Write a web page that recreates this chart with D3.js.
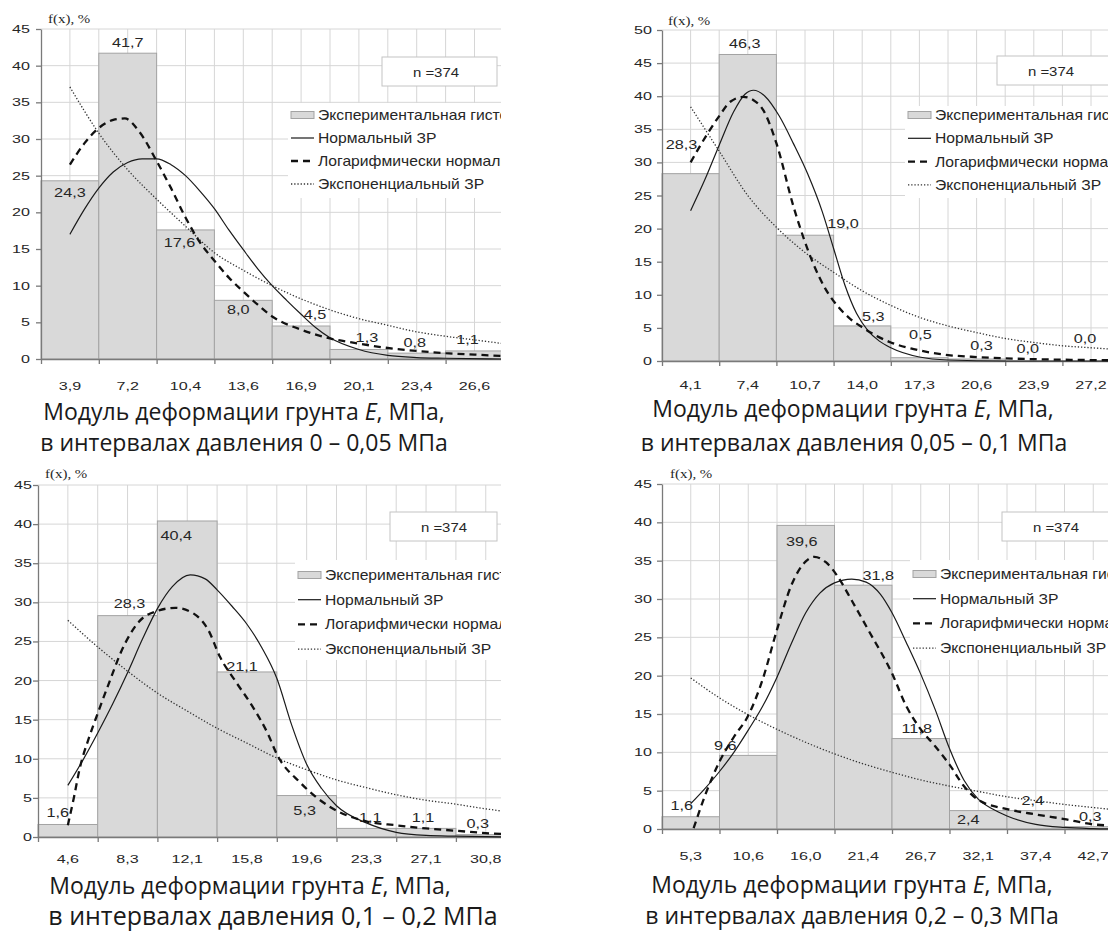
<!DOCTYPE html>
<html>
<head>
<meta charset="utf-8">
<script src="https://cdn.jsdelivr.net/npm/d3@7"></script>
<style>
  body { margin: 0; background: #fff; }
  svg text { font-family: "Liberation Sans", Arial, sans-serif; }
</style>
</head>
<body>
<div id="vis"></div>
<script>
// == DATA ==
const legendNames = ["Экспериментальная гистограмма", "Нормальный ЗР", "Логарифмически нормальный ЗР", "Экспоненциальный ЗР"];
const sampleSize = "n =374";
const axisTitle = ["Модуль деформации грунта ", "E", ", МПа,"];
const pressure = ["0 – 0,05", "0,05 – 0,1", "0,1 – 0,2", "0,2 – 0,3"];

// panel 1: 0 - 0.05 MPa
const ticks1 = ["3,9", "7,2", "10,4", "13,6", "16,9", "20,1", "23,4", "26,6"];
const hist1 = [24.3, 41.7, 17.6, 8.0, 4.5, 1.3, 0.8, 1.1];
const normal1 = [[0.5,17.0],[0.75,20.4],[1.0,23.3],[1.25,25.5],[1.5,26.8],[1.75,27.3],[2.0,27.3],[2.25,26.5],[2.5,25.0],[2.75,22.9],[3.0,20.5],[3.25,17.6],[3.5,14.9],[3.75,12.3],[4.0,10.0],[4.25,8.0],[4.5,6.1],[4.75,4.3],[5.0,2.9],[5.5,1.3],[6.0,0.5],[6.5,0.2],[7.0,0.1],[8.0,0.0]];
const lognorm1 = [[0.5,26.5],[0.75,29.4],[1.0,31.5],[1.25,32.6],[1.45,32.8],[1.7,31.0],[2.0,27.0],[2.25,23.3],[2.5,19.3],[2.75,15.9],[3.0,13.4],[3.25,11.1],[3.5,9.2],[3.75,7.4],[4.0,5.8],[4.5,4.0],[5.0,2.8],[5.5,2.1],[6.0,1.5],[6.5,1.1],[7.0,0.8],[7.5,0.6],[8.0,0.4]];
const expo1 = [[0.5,37.1],[1.0,30.8],[1.5,25.8],[2.0,21.8],[2.5,18.1],[3.0,14.5],[3.5,12.1],[4.0,10.0],[4.5,8.2],[5.0,6.7],[5.5,5.5],[6.0,4.6],[6.5,3.7],[7.0,3.1],[7.5,2.6],[8.0,2.1]];

// panel 2: 0.05 - 0.1 MPa
const ticks2 = ["4,1", "7,4", "10,7", "14,0", "17,3", "20,6", "23,9", "27,2"];
const hist2 = [28.3, 46.3, 19.0, 5.3, 0.5, 0.3, 0.0, 0.0];
const normal2 = [[0.5,22.7],[0.75,27.4],[1.0,32.6],[1.25,37.6],[1.45,40.3],[1.6,40.9],[1.8,40.0],[2.05,37.0],[2.3,32.8],[2.55,28.2],[2.8,22.6],[3.0,17.0],[3.2,11.4],[3.4,7.2],[3.6,4.6],[3.8,3.0],[4.0,2.0],[4.5,0.6],[5.0,0.15],[6.0,0.0],[8.0,0.0]];
const lognorm2 = [[0.5,30.0],[0.8,34.4],[1.0,37.0],[1.2,39.2],[1.42,39.9],[1.6,39.4],[1.77,37.9],[2.0,32.9],[2.3,23.3],[2.64,14.8],[2.85,11.0],[3.1,8.0],[3.3,6.3],[3.5,5.1],[3.75,3.8],[4.0,2.8],[4.4,1.8],[5.0,0.9],[5.5,0.6],[6.0,0.4],[7.0,0.2],[8.0,0.1]];
const expo2 = [[0.5,38.4],[1.0,31.7],[1.5,25.0],[2.0,20.2],[2.5,16.4],[3.0,13.4],[3.5,10.6],[4.0,8.4],[4.5,6.6],[5.0,5.3],[5.5,4.3],[6.0,3.4],[6.5,2.8],[7.0,2.3],[7.5,2.0],[8.0,1.7]];

// panel 3: 0.1 - 0.2 MPa
const ticks3 = ["4,6", "8,3", "12,1", "15,8", "19,6", "23,3", "27,1", "30,8"];
const hist3 = [1.6, 28.3, 40.4, 21.1, 5.3, 1.1, 1.1, 0.3];
const normal3 = [[0.5,6.6],[0.75,9.8],[1.0,13.3],[1.25,17.0],[1.5,21.0],[1.75,25.3],[2.0,29.2],[2.25,32.0],[2.55,33.5],[2.8,33.0],[3.0,31.6],[3.25,29.5],[3.5,27.2],[3.75,24.2],[4.0,20.3],[4.25,14.3],[4.5,9.3],[4.75,6.2],[5.0,4.0],[5.5,1.8],[6.0,0.6],[6.5,0.2],[7.0,0.1],[8.0,0.0]];
const lognorm3 = [[0.5,1.5],[0.6,5.0],[0.7,8.8],[0.85,12.6],[1.0,15.8],[1.2,19.9],[1.4,23.8],[1.7,27.6],[2.0,28.9],[2.3,29.3],[2.6,28.6],[2.85,26.5],[3.05,23.0],[3.3,20.0],[3.6,16.6],[3.85,13.2],[4.0,10.6],[4.4,6.9],[4.9,3.8],[5.5,2.0],[6.0,1.5],[6.5,1.1],[7.0,0.8],[7.5,0.5],[8.0,0.3]];
const expo3 = [[0.5,27.7],[1.0,24.3],[1.5,21.2],[2.0,18.4],[2.5,16.1],[3.0,13.9],[3.5,12.0],[4.0,10.1],[4.5,8.6],[5.0,7.3],[5.5,6.3],[6.0,5.4],[6.5,4.7],[7.0,4.2],[7.5,3.6],[8.0,3.1]];

// panel 4: 0.2 - 0.3 MPa
const ticks4 = ["5,3", "10,6", "16,0", "21,4", "26,7", "32,1", "37,4", "42,7"];
const hist4 = [1.6, 9.6, 39.6, 31.8, 11.8, 2.4, 2.4, 0.3];
const normal4 = [[0.5,3.3],[0.75,5.3],[1.0,7.5],[1.25,10.0],[1.5,12.9],[1.75,16.0],[2.0,19.8],[2.25,24.2],[2.5,28.2],[2.75,30.8],[3.0,32.1],[3.3,32.6],[3.55,32.2],[3.8,30.6],[4.0,28.2],[4.25,24.3],[4.5,20.2],[4.75,15.6],[5.0,10.5],[5.25,6.4],[5.5,3.9],[5.75,2.6],[6.0,1.7],[6.5,0.6],[7.0,0.2],[7.5,0.05],[8.0,0.0]];
const lognorm4 = [[0.55,0.1],[0.75,4.4],[1.0,8.8],[1.25,12.0],[1.5,14.8],[1.75,19.5],[2.0,26.0],[2.25,31.8],[2.5,34.9],[2.65,35.5],[2.85,34.8],[3.05,33.0],[3.3,29.8],[3.6,25.8],[4.0,20.3],[4.25,16.0],[4.5,13.0],[4.75,10.8],[5.0,8.4],[5.25,5.6],[5.5,3.8],[6.0,2.6],[6.5,1.9],[7.0,1.3],[7.5,0.6],[8.0,0.4]];
const expo4 = [[0.5,19.7],[1.0,17.1],[1.5,14.9],[2.0,13.0],[2.5,11.3],[3.0,9.8],[3.5,8.5],[4.0,7.4],[4.5,6.4],[5.0,5.6],[5.5,4.9],[6.0,4.2],[6.5,3.7],[7.0,3.2],[7.5,2.8],[8.0,2.4]];

// where each bar label sits relative to its bar top: [dx, dy] in px
const labelOff1 = [[0,12],[0,-11],[-6,13],[-5,9],[14,-11],[8,-12],[-2,-11],[-7,-11]];
const labelOff2 = [[-9,-29],[-3,-11],[38,-12],[11,-9],[1,-23],[5,-13],[-6,-12],[-6,-22]];
const labelOff3 = [[-10,-12],[2,-12],[-11,15],[-5,-5],[-2,15],[4,-11],[-3,-11],[-8,-11]];
const labelOff4 = [[-9,-11],[-23,-10],[-4,16],[15,-10],[-4,-10],[-10,9],[-3,-10],[-3,-10]];

// == LAYOUT ==
const panels = [
  { ticks: ticks1, hist: hist1, normal: normal1, lognorm: lognorm1, expo: expo1, offs: labelOff1, pressure: pressure[0],
    ymax: 45, left: 41, binW: 57.8, top: 29, bottom: 359, clipRight: 501, yLabGap: 11, xLabDy: 31, fx: [48, 23],
    nBox: [382, 57, 115], sw: 291, legTop: 103, legH: 95, legRow: 115, legStep: 23,
    titleX: [244, 244], titleY: [420, 451], t2size: 23 },
  { ticks: ticks2, hist: hist2, normal: normal2, lognorm: lognorm2, expo: expo2, offs: labelOff2, pressure: pressure[1],
    ymax: 50, left: 662, binW: 57.2, top: 30, bottom: 361, clipRight: 1108, yLabGap: 10, xLabDy: 28, fx: [668, 25],
    nBox: [997, 56, 140], sw: 908, legTop: 106, legH: 92, legRow: 115, legStep: 23.3,
    titleX: [853, 854], titleY: [417, 451], t2size: 23 },
  { ticks: ticks3, hist: hist3, normal: normal3, lognorm: lognorm3, expo: expo3, offs: labelOff3, pressure: pressure[2],
    ymax: 45, left: 38, binW: 59.7, top: 485, bottom: 837, clipRight: 501, yLabGap: 6, xLabDy: 26, fx: [45, 478],
    nBox: [390, 512, 107], sw: 298, legTop: 560, legH: 100, legRow: 575, legStep: 24.7,
    titleX: [250, 273], titleY: [894, 925], t2size: 25 },
  { ticks: ticks4, hist: hist4, normal: normal4, lognorm: lognorm4, expo: expo4, offs: labelOff4, pressure: pressure[3],
    ymax: 45, left: 662, binW: 57.5, top: 484, bottom: 829, clipRight: 1108, yLabGap: 10, xLabDy: 31, fx: [670, 478],
    nBox: [1002, 512, 140], sw: 913, legTop: 560, legH: 100, legRow: 574, legStep: 24.7,
    titleX: [852, 852], titleY: [893, 924], t2size: 23 }
];

const W = 1108, H = 932;
const gridColor = "#d6d6d6", axisColor = "#7a7a7a", textColor = "#262626";

const svg = d3.select("#vis").append("svg")
  .attr("width", W).attr("height", H)
  .style("display", "block");

// text stretched horizontally like the scanned chart
function stext(g, x, y, str, size, sx, anchor) {
  return g.append("text")
    .attr("transform", `translate(${x},${y}) scale(${sx},1)`)
    .attr("text-anchor", anchor)
    .attr("font-size", size)
    .attr("fill", textColor)
    .text(str);
}

const fmt = v => d3.format(".1f")(v).replace(".", ",");

panels.forEach((p, pi) => {
  const x = d3.scaleLinear().domain([0, 8]).range([p.left, p.left + 8 * p.binW]);
  const y = d3.scaleLinear().domain([0, p.ymax]).range([p.bottom, p.top]);

  svg.append("clipPath").attr("id", "clip" + pi)
    .append("rect")
    .attr("x", 0).attr("y", p.top - 30)
    .attr("width", p.clipRight).attr("height", p.bottom - p.top + 70);

  const g = svg.append("g").attr("clip-path", `url(#clip${pi})`);

  // grid
  const yVals = d3.range(5, p.ymax + 1, 5);
  g.append("g").selectAll("line").data(yVals).enter().append("line")
    .attr("x1", x(0)).attr("x2", x(8))
    .attr("y1", d => y(d)).attr("y2", d => y(d))
    .attr("stroke", gridColor).attr("stroke-width", 1);
  g.append("g").selectAll("line").data(d3.range(1, 17).map(k => k / 2)).enter().append("line")
    .attr("x1", d => x(d)).attr("x2", d => x(d))
    .attr("y1", y(0)).attr("y2", y(p.ymax))
    .attr("stroke", gridColor).attr("stroke-width", 1);

  // histogram bars
  g.append("g").selectAll("rect").data(p.hist).enter().append("rect")
    .attr("x", (d, i) => x(i))
    .attr("y", d => y(d))
    .attr("width", x(1) - x(0))
    .attr("height", d => y(0) - y(d))
    .attr("fill", "#d9d9d9")
    .attr("stroke", "#a3a3a3")
    .attr("stroke-width", 1);

  // axes
  const yAxis = g.append("g").attr("transform", `translate(${x(0)},0)`)
    .call(d3.axisLeft(y).tickValues(d3.range(0, p.ymax + 1, 5)).tickSize(5).tickSizeOuter(0).tickFormat(""));
  const xAxis = g.append("g").attr("transform", `translate(0,${y(0)})`)
    .call(d3.axisBottom(x).tickValues(d3.range(0, 9)).tickSize(5).tickSizeOuter(0).tickFormat(""));
  [yAxis, xAxis].forEach(a => {
    a.selectAll("path, line").attr("stroke", axisColor).attr("stroke-width", 1.3);
  });

  d3.range(0, p.ymax + 1, 5).forEach(v => {
    stext(g, x(0) - p.yLabGap, y(v) + 4, String(v), 11.5, 1.4, "end");
  });
  p.ticks.forEach((t, i) => {
    stext(g, x(i + 0.5), y(0) + p.xLabDy, t, 11.5, 1.4, "middle");
  });

  // bar labels
  p.hist.forEach((v, i) => {
    const o = p.offs[i];
    stext(g, x(i + 0.5) + o[0], y(v) + o[1] + 4.4, fmt(v), 12.5, 1.3, "middle");
  });

  // n box
  g.append("rect")
    .attr("x", p.nBox[0]).attr("y", p.nBox[1])
    .attr("width", p.nBox[2]).attr("height", 29)
    .attr("fill", "#fff").attr("stroke", "#c4c4c4").attr("stroke-width", 1);
  stext(g, p.nBox[0] + 54, p.nBox[1] + 20, sampleSize, 13, 1.15, "middle");

  // legend
  const styles = {
    expo: { width: 1.3, dash: "1.3,1.9", color: "#333" },
    normal: { width: 1.2, dash: null, color: "#1a1a1a" },
    lognorm: { width: 2.3, dash: "7,5", color: "#111" }
  };
  g.append("rect")
    .attr("x", p.sw - 3).attr("y", p.legTop)
    .attr("width", 260).attr("height", p.legH)
    .attr("fill", "#fff");
  legendNames.forEach((name, k) => {
    const ly = p.legRow + k * p.legStep;
    if (k === 0) {
      g.append("rect").attr("x", p.sw).attr("y", ly - 3.5)
        .attr("width", 23).attr("height", 7)
        .attr("fill", "#d9d9d9").attr("stroke", "#a3a3a3").attr("stroke-width", 1);
    } else {
      const s = [null, styles.normal, styles.lognorm, styles.expo][k];
      g.append("line").attr("x1", p.sw).attr("x2", p.sw + 23)
        .attr("y1", ly).attr("y2", ly)
        .attr("stroke", s.color).attr("stroke-width", s.width)
        .attr("stroke-dasharray", s.dash);
    }
    stext(g, p.sw + 27, ly + 5, name, 14, 1.12, "start");
  });

  // fitted curves
  const line = d3.line().x(d => x(d[0])).y(d => y(d[1])).curve(d3.curveMonotoneX);
  [[p.expo, styles.expo], [p.normal, styles.normal], [p.lognorm, styles.lognorm]].forEach(([data, s]) => {
    g.append("path").datum(data)
      .attr("d", line)
      .attr("fill", "none")
      .attr("stroke", s.color)
      .attr("stroke-width", s.width)
      .attr("stroke-dasharray", s.dash);
  });

  // y-axis title
  svg.append("text")
    .attr("transform", `translate(${p.fx[0]},${p.fx[1]}) scale(1.3,1)`)
    .style("font-family", "'Liberation Serif', 'Times New Roman', serif")
    .attr("font-size", 11.5)
    .attr("fill", textColor)
    .text("f(x), %");

  // x-axis title (two lines)
  const t1 = svg.append("text")
    .attr("x", p.titleX[0]).attr("y", p.titleY[0])
    .attr("text-anchor", "middle")
    .style("font-family", "'Open Sans', sans-serif")
    .attr("font-size", 23)
    .attr("fill", "#1a1a1a");
  t1.append("tspan").text(axisTitle[0]);
  t1.append("tspan").attr("font-style", "italic").text(axisTitle[1]);
  t1.append("tspan").text(axisTitle[2]);

  svg.append("text")
    .attr("x", p.titleX[1]).attr("y", p.titleY[1])
    .attr("text-anchor", "middle")
    .style("font-family", "'Open Sans', sans-serif")
    .attr("font-size", p.t2size)
    .attr("fill", "#1a1a1a")
    .text("в интервалах давления " + p.pressure + " МПа");
});
</script>
</body>
</html>
